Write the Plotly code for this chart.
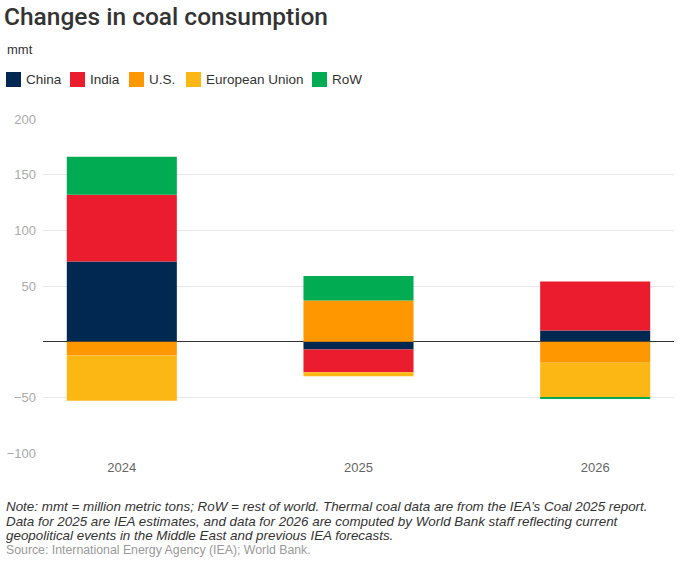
import plotly.graph_objects as go

years = [2024, 2025, 2026]
series_names = ["China", "India", "U.S.", "European Union", "RoW"]
china = [72, -7, 10]
india = [60, -20.5, 44]
us = [-12.5, 37, -19]
eu = [-40.5, -3.5, -31]
row = [34, 22, -1]
colors = ["#002850", "#EB1C2D", "#FF9800", "#FDB714", "#00AB51"]
yticks = [-100, -50, 50, 100, 150, 200]
note_lines = [
    "Note: mmt = million metric tons; RoW = rest of world. Thermal coal data are from the IEA’s Coal 2025 report.",
    "Data for 2025 are IEA estimates, and data for 2026 are computed by World Bank staff reflecting current",
    "geopolitical events in the Middle East and previous IEA forecasts.",
]
source = "Source: International Energy Agency (IEA); World Bank."

W, H = 680, 563
L, R, T, B = 43, 6, 119, 110
FONT = "Liberation Sans, Arial, sans-serif"

fig = go.Figure()
for name, vals, col in zip(series_names, [china, india, us, eu, row], colors):
    fig.add_trace(go.Bar(x=years, y=vals, name=name, marker_color=col,
                         marker_line_width=0, width=0.465, showlegend=False))

ph = H - T - B
pw = W - L - R
def py(p):
    return (H - B - p) / ph
def px(p):
    return (p - L) / pw

annotations = [
    dict(text="mmt", xref="paper", yref="paper", x=px(5), y=py(49), xanchor="left",
         yanchor="middle", showarrow=False, font=dict(size=13, color="#333")),
]
for i, line in enumerate(note_lines):
    annotations.append(dict(text=line, xref="paper", yref="paper", x=px(4), y=py(506.5 + 14.5 * i),
                            xanchor="left", yanchor="middle", showarrow=False,
                            font=dict(size=13.4, color="#333", style="italic")))
annotations.append(dict(text=source, xref="paper", yref="paper", x=px(4), y=py(550),
                        xanchor="left", yanchor="middle", showarrow=False,
                        font=dict(size=12.3, color="#999")))

# legend (manual, to match the compact original layout)
legend_x = [6, 70, 129, 186, 312]
shapes = []
for lx, name, col in zip(legend_x, series_names, colors):
    shapes.append(dict(type="rect", xref="paper", yref="paper",
                       x0=px(lx), x1=px(lx + 15), y0=py(87), y1=py(72),
                       fillcolor=col, line=dict(width=0)))
    annotations.append(dict(text=name, xref="paper", yref="paper", x=px(lx + 18), y=py(79.5),
                            xanchor="left", yanchor="middle", showarrow=False,
                            font=dict(size=13.5, color="#333")))

fig.update_layout(
    width=W, height=H,
    margin=dict(l=L, r=R, t=T, b=B),
    barmode="relative",
    plot_bgcolor="white", paper_bgcolor="white",
    font=dict(family=FONT, color="#333"),
    title=dict(text="Changes in coal consumption", x=4 / W, xref="container", xanchor="left",
               y=1 - 16 / H, yref="container", yanchor="middle",
               font=dict(size=24.5, color="#333", family="Roboto, sans-serif", weight=500)),
    showlegend=False,
    xaxis=dict(type="linear", range=[2023.667, 2026.333], tickvals=years,
               ticktext=[str(y) for y in years], showgrid=False, zeroline=False,
               tickfont=dict(size=13, color="#666"), ticks="", showline=False,
               ticklabelstandoff=5),
    yaxis=dict(range=[-100, 200], tickvals=yticks, showgrid=True, gridcolor="#e8e8e8",
               gridwidth=1, zeroline=True, zerolinecolor="#333", zerolinewidth=1.2,
               tickfont=dict(size=13, color="#aaa"), ticks="", ticklabelstandoff=6),
    shapes=shapes,
    annotations=annotations,
)

fig.write_html("out.html")
